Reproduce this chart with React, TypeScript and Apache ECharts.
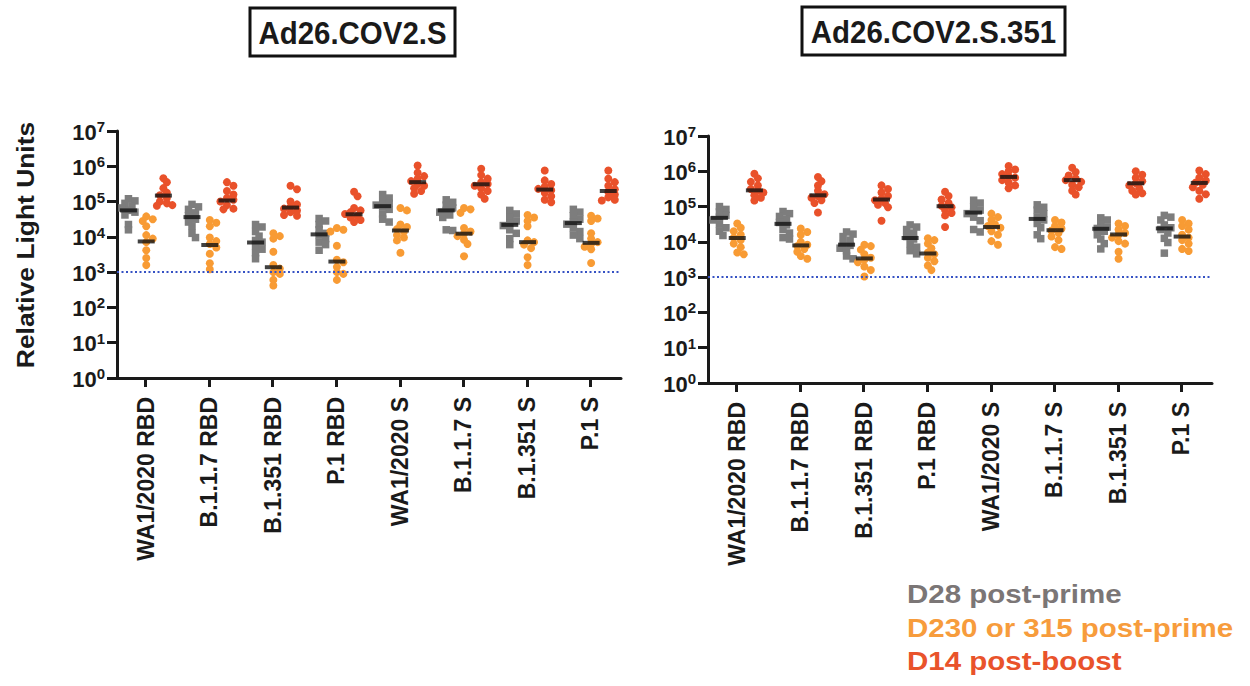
import React, { useEffect, useRef } from "react";
import * as echarts from "echarts";

const categories = [
  "WA1/2020 RBD", "B.1.1.7 RBD", "B.1.351 RBD", "P.1 RBD",
  "WA1/2020 S", "B.1.1.7 S", "B.1.351 S", "P.1 S",
];
const panelTitles = ["Ad26.COV2.S", "Ad26.COV2.S.351"];
const groupNames = ["D28 post-prime", "D230 or 315 post-prime", "D14 post-boost"];
const yAxisTitle = "Relative Light Units";
const cutoff = 1000;

// values are log10(RLU)
const leftD28 = [
  [5.08, 5.02, 4.95, 4.88, 4.82, 4.75, 4.7, 4.62, 4.35, 4.2],
  [4.92, 4.85, 4.78, 4.68, 4.6, 4.5, 4.42, 4.3, 4.1, 3.98],
  [4.35, 4.28, 4.15, 4.02, 3.9, 3.85, 3.75, 3.65, 3.55, 3.38],
  [4.52, 4.45, 4.35, 4.2, 4.1, 4.05, 3.95, 3.85, 3.78, 3.62],
  [5.2, 5.1, 5.0, 4.95, 4.9, 4.85, 4.78, 4.65, 4.5, 4.42],
  [5.05, 4.98, 4.9, 4.82, 4.75, 4.7, 4.62, 4.55, 4.2, 4.18],
  [4.75, 4.65, 4.55, 4.45, 4.38, 4.32, 4.2, 4.1, 3.95, 3.78],
  [4.78, 4.7, 4.6, 4.5, 4.42, 4.36, 4.25, 4.15, 4.05, 3.95],
];
const leftD28Median = [4.75, 4.56, 3.84, 4.07, 4.87, 4.75, 4.34, 4.39];

const leftD230 = [
  [4.58, 4.5, 4.45, 4.3, 4.05, 3.95, 3.85, 3.62, 3.4, 3.2],
  [4.48, 4.4, 4.3, 3.98, 3.88, 3.8, 3.7, 3.52, 3.25, 3.08],
  [4.1, 4.02, 3.95, 3.58, 3.2, 3.1, 3.0, 2.95, 2.78, 2.62],
  [4.25, 4.2, 4.15, 3.75, 3.35, 3.28, 3.15, 3.0, 2.95, 2.78],
  [4.82, 4.75, 4.35, 4.28, 4.22, 4.15, 4.05, 3.98, 3.9, 3.55],
  [4.82, 4.78, 4.68, 4.25, 4.15, 4.09, 4.02, 3.92, 3.8, 3.45],
  [4.62, 4.55, 4.45, 4.3, 3.9, 3.85, 3.78, 3.68, 3.42, 3.2],
  [4.6, 4.52, 4.45, 4.1, 3.95, 3.85, 3.8, 3.72, 3.65, 3.26],
];
const leftD230Median = [3.87, 3.77, 3.14, 3.3, 4.18, 4.09, 3.85, 3.83];

const leftD14 = [
  [5.66, 5.55, 5.38, 5.25, 5.18, 5.1, 5.0, 4.95, 4.9, 4.88],
  [5.55, 5.45, 5.3, 5.2, 5.1, 5.05, 5.0, 4.9, 4.8, 4.78],
  [5.45, 5.35, 5.0, 4.92, 4.85, 4.8, 4.75, 4.7, 4.62, 4.6],
  [5.28, 5.15, 4.82, 4.75, 4.7, 4.65, 4.6, 4.55, 4.48, 4.42],
  [6.02, 5.82, 5.72, 5.65, 5.58, 5.5, 5.45, 5.38, 5.3, 5.22],
  [5.93, 5.75, 5.65, 5.55, 5.5, 5.45, 5.38, 5.3, 5.2, 5.08],
  [5.88, 5.6, 5.5, 5.42, 5.36, 5.32, 5.25, 5.15, 5.05, 4.98],
  [5.88, 5.65, 5.55, 5.45, 5.35, 5.28, 5.2, 5.12, 5.05, 5.03],
];
const leftD14Median = [5.17, 5.03, 4.83, 4.64, 5.55, 5.49, 5.34, 5.3];

const rightD28 = [
  [5.0, 4.92, 4.85, 4.75, 4.7, 4.62, 4.5, 4.4, 4.3, 4.18],
  [4.86, 4.8, 4.72, 4.65, 4.55, 4.48, 4.35, 4.25, 4.12, 4.08],
  [4.28, 4.22, 4.15, 4.05, 3.95, 3.9, 3.82, 3.75, 3.6, 3.52],
  [4.48, 4.42, 4.35, 4.25, 4.15, 4.08, 3.95, 3.85, 3.75, 3.66],
  [5.18, 5.1, 5.0, 4.9, 4.85, 4.8, 4.7, 4.6, 4.35, 4.28],
  [5.05, 4.98, 4.9, 4.8, 4.7, 4.62, 4.52, 4.4, 4.2, 4.09],
  [4.68, 4.62, 4.5, 4.42, 4.38, 4.3, 4.2, 4.08, 3.95, 3.8],
  [4.75, 4.7, 4.62, 4.48, 4.4, 4.35, 4.25, 4.1, 3.98, 3.68],
];
const rightD28Median = [4.68, 4.51, 3.92, 4.11, 4.83, 4.65, 4.37, 4.38];

const rightD230 = [
  [4.52, 4.4, 4.3, 4.2, 4.12, 4.05, 3.95, 3.85, 3.7, 3.65],
  [4.38, 4.28, 4.2, 4.0, 3.92, 3.88, 3.8, 3.72, 3.6, 3.52],
  [3.92, 3.88, 3.78, 3.65, 3.55, 3.5, 3.42, 3.3, 3.2, 3.02],
  [4.1, 4.05, 3.95, 3.82, 3.7, 3.65, 3.55, 3.45, 3.33, 3.2],
  [4.8, 4.7, 4.62, 4.5, 4.45, 4.4, 4.3, 4.2, 4.02, 3.92],
  [4.62, 4.55, 4.45, 4.38, 4.32, 4.25, 4.15, 4.05, 3.85, 3.8],
  [4.52, 4.45, 4.35, 4.25, 4.2, 4.12, 4.02, 3.95, 3.72, 3.52],
  [4.62, 4.52, 4.45, 4.35, 4.2, 4.12, 4.05, 3.95, 3.8, 3.74],
];
const rightD230Median = [4.11, 3.9, 3.53, 3.67, 4.42, 4.33, 4.21, 4.15];

const rightD14 = [
  [5.93, 5.8, 5.7, 5.6, 5.5, 5.45, 5.4, 5.32, 5.25, 5.17],
  [5.84, 5.72, 5.6, 5.45, 5.35, 5.3, 5.25, 5.18, 5.1, 4.83],
  [5.6, 5.5, 5.4, 5.3, 5.22, 5.18, 5.1, 5.05, 4.98, 4.6],
  [5.42, 5.3, 5.2, 5.1, 5.02, 4.98, 4.9, 4.82, 4.75, 4.42],
  [6.15, 6.05, 6.0, 5.92, 5.85, 5.82, 5.75, 5.68, 5.6, 5.52],
  [6.1, 5.98, 5.88, 5.8, 5.75, 5.7, 5.62, 5.55, 5.45, 5.34],
  [6.0, 5.9, 5.82, 5.72, 5.66, 5.6, 5.52, 5.45, 5.38, 5.34],
  [6.02, 5.92, 5.82, 5.74, 5.68, 5.62, 5.55, 5.45, 5.35, 5.22],
];
const rightD14Median = [5.46, 5.32, 5.2, 5.01, 5.84, 5.75, 5.66, 5.67];

const COLORS = ["#7d7d7d", "#f89b34", "#e9512a"];
const LEGEND_COLORS = ["#7b7676", "#f79c3c", "#e9532b"];
const FONT = '"Liberation Sans", Arial, Helvetica, sans-serif';
const TEXT = "#1a1a1a";

const GROUP_OFFSET = [-0.27, 0.01, 0.28];
const PX_PER_UNIT_X = 63.6;
const PX_PER_DECADE = 35.3;

// beeswarm-style horizontal placement (pixels) so dots do not pile up exactly
function swarm(values: number[]): number[] {
  const placed: { x: number; y: number }[] = [];
  const cands = [0, 3.5, -3.5, 6.5, -6.5, 9, -9];
  return values.map((v) => {
    const y = v * PX_PER_DECADE;
    let chosen = cands[cands.length - 1];
    for (const c of cands) {
      if (placed.every((p) => Math.hypot(p.x - c, p.y - y) >= 5)) {
        chosen = c;
        break;
      }
    }
    placed.push({ x: chosen, y });
    return chosen;
  });
}

const panels = [
  { groups: [leftD28, leftD230, leftD14], medians: [leftD28Median, leftD230Median, leftD14Median], grid: { left: 117, top: 131, width: 504, height: 247 } },
  { groups: [rightD28, rightD230, rightD14], medians: [rightD28Median, rightD230Median, rightD14Median], grid: { left: 708, top: 136, width: 504, height: 247 } },
];

export default function App() {
  const ref = useRef<HTMLDivElement>(null);
  useEffect(() => {
    if (!ref.current) return;
    const chart = echarts.init(ref.current, undefined, { renderer: "svg" });

    const grids: any[] = [];
    const xAxes: any[] = [];
    const yAxes: any[] = [];
    const series: any[] = [];

    panels.forEach((panel, p) => {
      grids.push({ ...panel.grid, containLabel: false });
      xAxes.push({
        type: "value",
        gridIndex: p,
        min: -0.45,
        max: 7.48,
        splitLine: { show: false },
        axisLine: { show: true, onZero: false, lineStyle: { color: TEXT, width: 3 } },
        axisTick: { show: true, customValues: categories.map((_, i) => i), length: 9, lineStyle: { color: TEXT, width: 3 } },
        axisLabel: {
          customValues: categories.map((_, i) => i),
          formatter: (v: number) => categories[Math.round(v)] ?? "",
          rotate: 90,
          margin: 19,
          color: TEXT,
          fontFamily: FONT,
          fontWeight: "bold",
          fontSize: 23,
        },
      });
      yAxes.push({
        type: "log",
        logBase: 10,
        gridIndex: p,
        min: 1,
        max: 1e7,
        splitLine: { show: false },
        minorTick: { show: false },
        axisLine: { show: true, onZero: false, lineStyle: { color: TEXT, width: 3 } },
        axisTick: { show: true, length: 10, lineStyle: { color: TEXT, width: 3 } },
        axisLabel: {
          margin: 12,
          formatter: (v: number) => `{b|10}{s|${Math.round(Math.log10(v))}}`,
          rich: {
            b: { fontSize: 22, fontWeight: "bold", fontFamily: FONT, color: TEXT, lineHeight: 24, verticalAlign: "bottom", padding: [6, 0, 0, 0] },
            s: { fontSize: 15, fontWeight: "bold", fontFamily: FONT, color: TEXT, lineHeight: 24, verticalAlign: "top", padding: [0, 0, 8, 0] },
          },
        },
      });

      panel.groups.forEach((grp, g) => {
        const data: number[][] = [];
        grp.forEach((vals, i) => {
          const offs = swarm(vals);
          vals.forEach((v, j) => {
            data.push([i + GROUP_OFFSET[g] + offs[j] / PX_PER_UNIT_X, Math.pow(10, v)]);
          });
        });
        series.push({
          type: "scatter",
          name: groupNames[g],
          xAxisIndex: p,
          yAxisIndex: p,
          symbol: g === 0 ? "rect" : "circle",
          symbolSize: g === 0 ? 7.5 : 8,
          itemStyle: { color: COLORS[g], opacity: 1 },
          data,
          z: 2,
          silent: true,
          ...(g === 0
            ? {
                markLine: {
                  silent: true,
                  symbol: "none",
                  label: { show: false },
                  lineStyle: { color: "#3652c4", width: 1.8, type: [2, 2.5] },
                  data: [{ yAxis: cutoff }],
                },
              }
            : {}),
        });
        series.push({
          type: "scatter",
          name: groupNames[g] + " median",
          xAxisIndex: p,
          yAxisIndex: p,
          symbol: "rect",
          symbolSize: [17, 4],
          itemStyle: { color: "#111111" },
          data: panel.medians[g].map((m, i) => [i + GROUP_OFFSET[g], Math.pow(10, m)]),
          z: 5,
          silent: true,
        });
      });
    });

    const titleBoxes = [
      { x: 250, y: 8, w: 205, h: 48 },
      { x: 802, y: 7, w: 263, h: 48 },
    ];

    const graphic: any[] = [];
    titleBoxes.forEach((b, i) => {
      graphic.push({
        type: "rect",
        shape: { x: b.x, y: b.y, width: b.w, height: b.h },
        style: { fill: "#ffffff", stroke: "#111111", lineWidth: 3 },
      });
      graphic.push({
        type: "text",
        x: b.x + b.w / 2,
        y: b.y + b.h / 2 + 1,
        scaleX: 0.95,
        style: {
          text: panelTitles[i],
          fontFamily: FONT,
          fontWeight: "bold",
          fontSize: 31,
          fill: TEXT,
          textAlign: "center",
          textVerticalAlign: "middle",
        },
      });
    });
    graphic.push({
      type: "text",
      x: 25,
      y: 245,
      rotation: Math.PI / 2,
      scaleX: 1.1,
      style: {
        text: yAxisTitle,
        fontFamily: FONT,
        fontWeight: "bold",
        fontSize: 24,
        fill: TEXT,
        textAlign: "center",
        textVerticalAlign: "middle",
      },
    });
    const legendY = [594, 628, 661];
    groupNames.forEach((n, i) => {
      graphic.push({
        type: "text",
        x: 907,
        y: legendY[i],
        scaleX: 1.18,
        style: {
          text: n,
          fontFamily: FONT,
          fontWeight: "bold",
          fontSize: 25,
          fill: LEGEND_COLORS[i],
          textAlign: "left",
          textVerticalAlign: "middle",
        },
      });
    });

    chart.setOption({
      animation: false,
      backgroundColor: "#ffffff",
      grid: grids,
      xAxis: xAxes,
      yAxis: yAxes,
      series,
      graphic,
    });
    return () => chart.dispose();
  }, []);
  return (
    <div
      ref={ref}
      style={{ position: "absolute", left: 0, top: 0, width: 1250, height: 686 }}
    />
  );
}
